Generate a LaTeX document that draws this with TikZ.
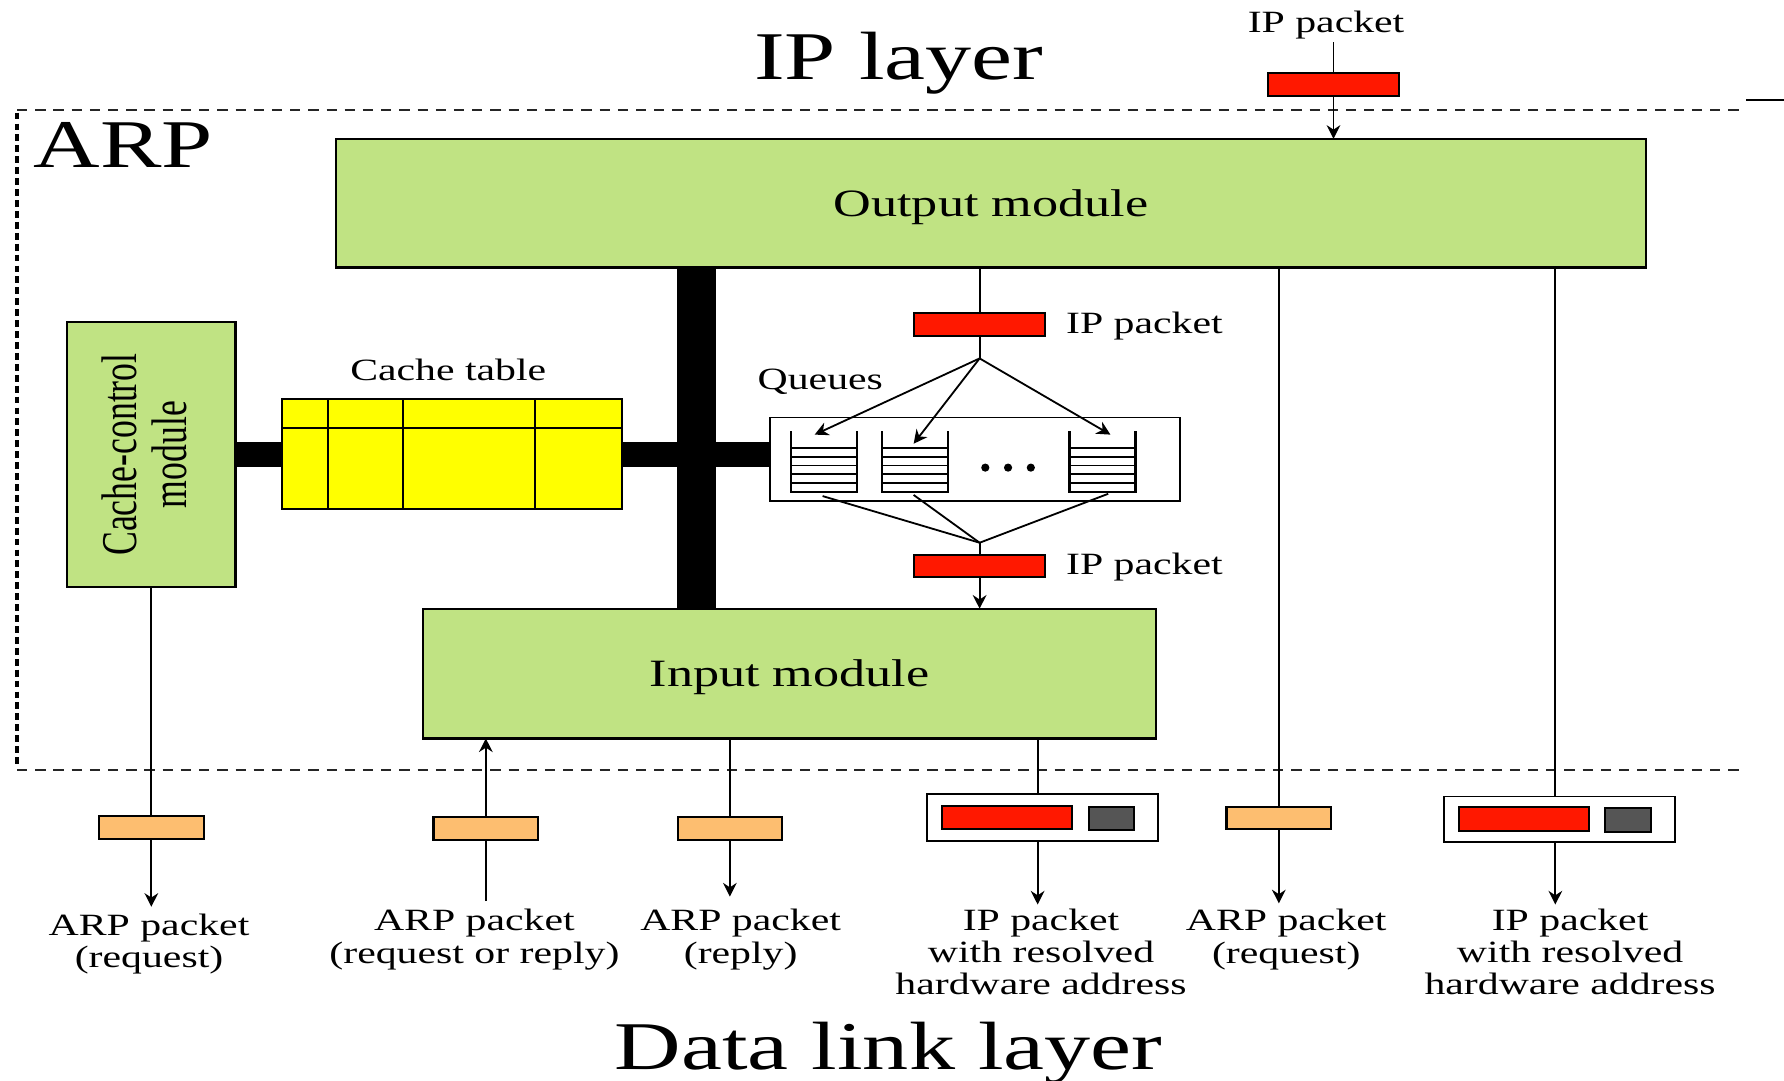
\documentclass[tikz,border=0pt]{standalone}
\usepackage{fontspec}
\setmainfont[FakeStretch=1.35]{Liberation Serif}
\newfontfamily\plainserif{Liberation Serif}
\usetikzlibrary{arrows.meta,calc}
\pgfdeclarelayer{background}
\pgfsetlayers{background,main}
\definecolor{modgreen}{RGB}{192,227,131}
\definecolor{pktred}{RGB}{255,24,0}
\definecolor{pktorange}{RGB}{253,190,112}
\definecolor{pktgray}{RGB}{85,85,85}
\definecolor{tabyellow}{RGB}{255,255,0}
\begin{document}
\begin{tikzpicture}[x=0.5pt,y=-0.5pt,
  every node/.style={inner sep=0pt,outer sep=0pt},
  module/.style={draw=black,line width=1pt,fill=modgreen},
  modtext/.style={font=\fontsize{17}{19}\selectfont,text depth=0pt},
  redpkt/.style={draw=black,line width=0.9pt,fill=pktred,minimum width=57.5pt,minimum height=10pt},
  orgpkt/.style={draw=black,line width=0.9pt,fill=pktorange,minimum width=46pt,minimum height=10pt},
  graypkt/.style={draw=black,line width=0.9pt,fill=pktgray,minimum width=20pt,minimum height=10pt},
  framebox/.style={draw=black,line width=0.8pt,fill=white,minimum width=101.5pt,minimum height=20.5pt},
  conn/.style={line width=0.8pt},
  arr/.style={conn,-{Stealth[length=6pt,width=6pt]}},
  big/.style={font=\fontsize{30}{32}\selectfont},
  small/.style={font=\fontsize{13.6}{14.25}\selectfont},
  lab/.style={small,align=center,anchor=base},
  qline/.style={line width=0.8pt},
]
\useasboundingbox (0,0) rectangle (1568,950);

% titles
\node[big,anchor=base] (iplayer) at (790,70) {IP layer};
\node[big,anchor=base] (dll) at (781,940) {Data link layer};
\node[big,anchor=base west] (arp) at (29.5,147) {ARP};

% ARP boundary
\draw[black!85,line width=0.8pt,dash pattern=on 4.5pt off 3.5pt] (15,97) -- (1535,97);
\draw[black!85,line width=0.8pt,dash pattern=on 4.5pt off 3.5pt] (15,677) -- (1535,677);
\draw[line width=1.6pt,dash pattern=on 3pt off 1.8pt] (15,99) -- (15,673);
\draw[line width=0.8pt] (1535,88) -- (1568,88);

% modules
\node[module,modtext,minimum width=576pt,minimum height=56.5pt] (out) at (871,178.5) {Output module};
\node[module,modtext,minimum width=322pt,minimum height=57pt] (inp) at (694,592) {Input module};
\node[module,minimum width=74pt,minimum height=116.5pt] (ccm) at (133,399.5)
  {\scalebox{1.4}[1]{\rotatebox{90}{\plainserif\fontsize{15.7}{15.7}\selectfont
   \begin{tabular}{@{}c@{}}Cache-control\\module\end{tabular}}}};

% cache table
\node[draw=black,line width=0.9pt,fill=tabyellow,minimum width=149.5pt,minimum height=48pt] (ctab) at (397.5,399) {};
\foreach \dx in {40,106,222}
  \draw[line width=0.9pt] ($(ctab.north west)+(\dx,0)$) -- ($(ctab.south west)+(\dx,0)$);
\draw[line width=0.9pt] ($(ctab.north west)+(0,25)$) -- ($(ctab.north east)+(0,25)$);
\node[small,anchor=base] (ctablbl) at (394,334) {Cache table};

% queues
\node[draw=black,line width=0.8pt,fill=white,minimum width=180pt,minimum height=36.5pt] (qbox) at (857,403.5) {};
\node[minimum width=29pt,minimum height=26.5pt] (q1) at (724,405.5) {};
\node[minimum width=29pt,minimum height=26.5pt] (q2) at (804.5,405.5) {};
\node[minimum width=29pt,minimum height=26.5pt] (q3) at (969,405.5) {};
\foreach \q in {q1,q2,q3} {
  \draw[line width=0.9pt] (\q.north west) -- (\q.south west) -- (\q.south east) -- (\q.north east);
  \foreach \d in {15,22.6,30.2,37.8,45.4}
    \draw[qline] ($(\q.north west)+(0,\d)$) -- ($(\q.north east)+(0,\d)$);
}
\foreach \xx in {866,886,906} \fill (\xx,411) circle[radius=1.8pt];
\node[small,anchor=base] (queues) at (721,342) {Queues};

% bus and bars
\begin{pgfonlayer}{background}
  \fill[white] (0,0) rectangle (1568,950);
  \coordinate (busx) at (612,0);
  \draw[line width=17pt] (busx |- out.south) -- (busx |- inp.north);
  \draw[line width=11pt] (ccm.east) -- (ccm.east -| qbox.west);
\end{pgfonlayer}

% IP packets
\node[small,anchor=base] (iptoplbl) at (1165.5,28.5) {IP packet};
\node[redpkt] (ptop) at (1172,74) {};
\coordinate (ptopstart) at (1172,37);
\draw[conn] (ptopstart) -- (ptop.north);
\draw[arr] (ptop.south) -- (ptop.south |- out.north);

\node[redpkt] (pmid1) at (861,285) {};
\node[redpkt] (pmid2) at (861,497.5) {};
\node[small,anchor=base west] (ipl1) at (937,293) {IP packet};
\node[small,anchor=base west] (ipl2) at (937,505) {IP packet};

\coordinate (fan1) at (861,315);
\coordinate (t1) at (716,382);
\coordinate (t2) at (803,390);
\coordinate (t3) at (976,382);
\draw[conn] (pmid1.north |- out.south) -- (pmid1.north);
\draw[conn] (pmid1.south) -- (fan1);
\foreach \t in {t1,t2,t3} \draw[arr] (fan1) -- (\t);

\coordinate (fan2) at (861,477);
\coordinate (b1) at (723,436);
\coordinate (b2) at (803,435);
\coordinate (b3) at (974,434);
\foreach \b in {b1,b2,b3} \draw[conn] (\b) -- (fan2);
\draw[conn] (fan2) -- (pmid2.north);
\draw[arr] (pmid2.south) -- (pmid2.south |- inp.north);

% bottom packets
\node[orgpkt] (o1) at (133,727) {};
\node[orgpkt] (o2) at (427,728) {};
\node[orgpkt] (o3) at (641.5,728) {};
\node[orgpkt] (o5) at (1124,719) {};
\node[framebox] (f4) at (916,718.5) {};
\node[redpkt,minimum height=10.5pt,minimum width=57pt] (r4) at (885,718.5) {};
\node[graypkt] (g4) at (977,719.5) {};
\node[framebox,minimum height=20pt] (f6) at (1370.5,720) {};
\node[redpkt,minimum height=10.5pt] (r6) at (1339.5,719.5) {};
\node[graypkt,minimum height=10.5pt] (g6) at (1431,720.5) {};

\coordinate (e1) at (133,797);
\coordinate (s2) at (427,792);
\coordinate (e3) at (641.5,788);
\coordinate (e4) at (912,795);
\coordinate (e5) at (1124,794);
\coordinate (e6) at (1367,795);

\draw[conn] (ccm.south) -- (o1.north);
\draw[arr] (o1.south) -- (e1);
\draw[conn] (s2) -- (o2.south);
\draw[arr] (o2.north) -- (o2.north |- inp.south);
\draw[conn] (o3.north |- inp.south) -- (o3.north);
\draw[arr] (o3.south) -- (e3);
\draw[conn] (e4 |- inp.south) -- (e4 |- f4.north);
\draw[arr] (e4 |- f4.south) -- (e4);
\draw[conn] (o5.north |- out.south) -- (o5.north);
\draw[arr] (o5.south) -- (e5);
\draw[conn] (e6 |- out.south) -- (e6 |- f6.north);
\draw[arr] (e6 |- f6.south) -- (e6);

% bottom labels (base = baseline of last line)
\node[lab] (l1) at (131,850.5) {ARP packet\\(request)};
\node[lab] (l2) at (417,846.5) {ARP packet\\(request or reply)};
\node[lab] (l3) at (651,846.5) {ARP packet\\(reply)};
\node[lab] (l4) at (915,874.5) {IP packet\\with resolved\\hardware address};
\node[lab] (l5) at (1130.5,846.5) {ARP packet\\(request)};
\node[lab] (l6) at (1380,874.5) {IP packet\\with resolved\\hardware address};
\end{tikzpicture}
\end{document}
